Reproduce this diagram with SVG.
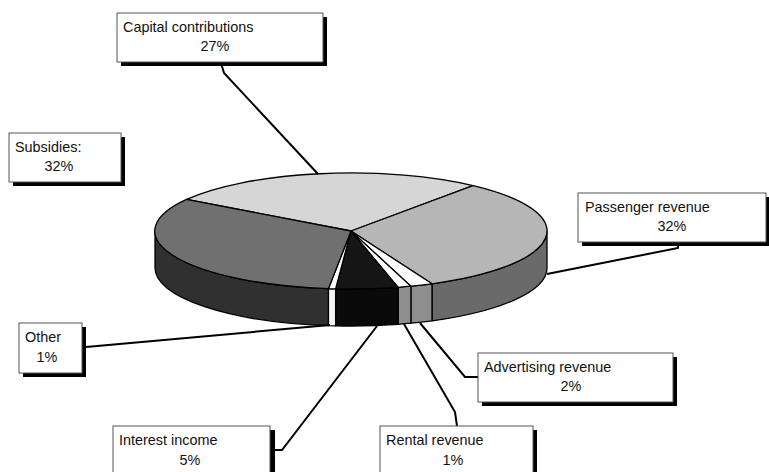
<svg xmlns="http://www.w3.org/2000/svg" width="769" height="472" viewBox="0 0 769 472">
<style>
.box{fill:#fff;stroke:#555;stroke-width:1}
.sh{fill:#000}
.t{font-family:"Liberation Sans",Arial,sans-serif;font-size:14.4px;fill:#111}
.c{text-anchor:middle}
.pie path{stroke:#000;stroke-width:1.3;stroke-linejoin:round}
.ln{fill:none;stroke:#000;stroke-width:2}
</style>
<rect width="769" height="472" fill="#fff"/>
<g id="pie" class="pie">
  <path d="M547,231 A196,58 0 0 1 432,283.8 L432,320.8 A196,58 0 0 0 547,268 Z" fill="#6a6a6a"/>
  <path d="M432,283.8 A196,58 0 0 1 410.9,286.2 L410.9,323.2 A196,58 0 0 0 432,320.8 Z" fill="#8e8e8e"/>
  <path d="M410.9,286.2 A196,58 0 0 1 398.1,287.3 L398.1,324.3 A196,58 0 0 0 410.9,323.2 Z" fill="#8e8e8e"/>
  <path d="M398.1,287.3 A196,58 0 0 1 335.6,288.8 L335.6,325.8 A196,58 0 0 0 398.1,324.3 Z" fill="#0a0a0a"/>
  <path d="M335.6,288.8 A196,58 0 0 1 328.4,288.7 L328.4,325.7 A196,58 0 0 0 335.6,325.8 Z" fill="#f4f4f4"/>
  <path d="M328.4,288.7 A196,58 0 0 1 155,231 L155,268 A196,58 0 0 0 328.4,325.7 Z" fill="#303030"/>
  <path d="M351,231 L186.6,199.4 A196,58 0 0 1 473,185.6 Z" fill="#d6d6d6"/>
  <path d="M351,231 L473,185.6 A196,58 0 0 1 432,283.8 Z" fill="#b6b6b6"/>
  <path d="M351,231 L432,283.8 A196,58 0 0 1 410.9,286.2 Z" fill="#fff"/>
  <path d="M351,231 L410.9,286.2 A196,58 0 0 1 398.1,287.3 Z" fill="#fff"/>
  <path d="M351,231 L398.1,287.3 A196,58 0 0 1 335.6,288.8 Z" fill="#151515"/>
  <path d="M351,231 L335.6,288.8 A196,58 0 0 1 328.4,288.7 Z" fill="#fff"/>
  <path d="M351,231 L328.4,288.7 A196,58 0 0 1 186.6,199.4 Z" fill="#707070"/>
</g>
<g id="connectors">
  <polyline class="ln" points="221,63 224,73 318,174"/>
  <polyline class="ln" points="678,243 678,248 547,274"/>
  <polyline class="ln" points="86,347 330,325"/>
  <polyline class="ln" points="478,377 465,377 420,323"/>
  <polyline class="ln" points="404,324 455,412 457,426"/>
  <polyline class="ln" points="273,450 282,450 377,326"/>
</g>
<g id="capital">
  <rect class="sh" x="121" y="17" width="206" height="49"/>
  <rect class="box" x="117" y="13" width="206" height="49"/>
  <text class="t" x="123" y="32">Capital contributions</text>
  <text class="t c" x="215" y="51">27%</text>
</g>
<g id="passenger">
  <rect class="sh" x="582" y="197" width="190" height="49"/>
  <rect class="box" x="578" y="193" width="188" height="49"/>
  <text class="t" x="585" y="212">Passenger revenue</text>
  <text class="t c" x="672" y="231">32%</text>
</g>
<g id="subsidies">
  <rect class="sh" x="13" y="137" width="112" height="49"/>
  <rect class="box" x="9" y="133" width="112" height="49"/>
  <text class="t" x="15" y="152">Subsidies:</text>
  <text class="t c" x="59" y="171">32%</text>
</g>
<g id="other">
  <rect class="sh" x="23" y="327" width="63" height="50"/>
  <rect class="box" x="19" y="323" width="63" height="50"/>
  <text class="t" x="25" y="342">Other</text>
  <text class="t c" x="47" y="362">1%</text>
</g>
<g id="advertising">
  <rect class="sh" x="482" y="357" width="195" height="49"/>
  <rect class="box" x="478" y="353" width="195" height="49"/>
  <text class="t" x="484" y="372">Advertising revenue</text>
  <text class="t c" x="571" y="391">2%</text>
</g>
<g id="interest">
  <rect class="sh" x="117" y="430" width="158" height="50"/>
  <rect class="box" x="113" y="426" width="157" height="50"/>
  <text class="t" x="119" y="445">Interest income</text>
  <text class="t c" x="190" y="465">5%</text>
</g>
<g id="rental">
  <rect class="sh" x="384" y="430" width="153" height="50"/>
  <rect class="box" x="380" y="426" width="153" height="50"/>
  <text class="t" x="386" y="445">Rental revenue</text>
  <text class="t c" x="453" y="465">1%</text>
</g>
</svg>
